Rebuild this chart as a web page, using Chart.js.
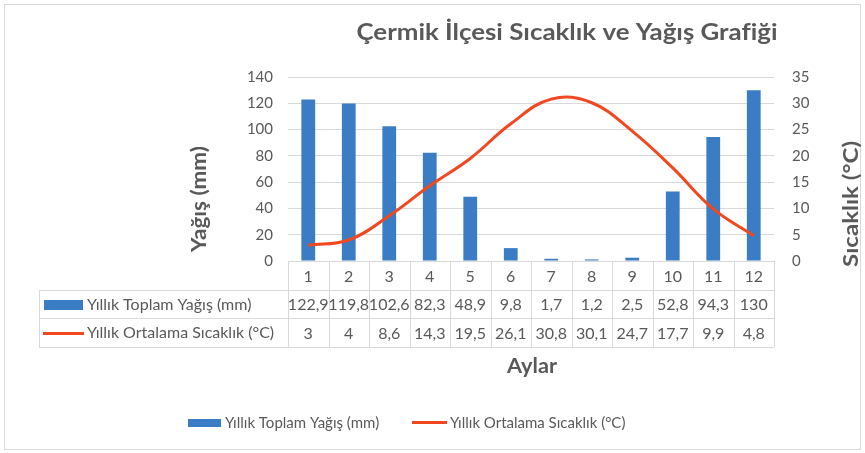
<!DOCTYPE html>
<html lang="tr">
<head>
<meta charset="UTF-8">
<title>Çermik İlçesi Sıcaklık ve Yağış Grafiği</title>
<script src="https://cdn.jsdelivr.net/npm/chart.js"></script>
<style>
    body { margin: 0; background: #fff; }
    #wrap { position: relative; width: 865px; height: 453px; }
</style>
</head>
<body>
<div id="wrap"><canvas id="chart" width="865" height="453"></canvas></div>
<script>
const months = ['1', '2', '3', '4', '5', '6', '7', '8', '9', '10', '11', '12'];
const rainfall = [122.9, 119.8, 102.6, 82.3, 48.9, 9.8, 1.7, 1.2, 2.5, 52.8, 94.3, 130];
const temperature = [3, 4, 8.6, 14.3, 19.5, 26.1, 30.8, 30.1, 24.7, 17.7, 9.9, 4.8];
const rainTicks = [0, 20, 40, 60, 80, 100, 120, 140];
const tempTicks = [0, 5, 10, 15, 20, 25, 30, 35];

const rainLabel = 'Yıllık Toplam Yağış (mm)';
const tempLabel = 'Yıllık Ortalama Sıcaklık (°C)';
const titleText = 'Çermik İlçesi Sıcaklık ve Yağış Grafiği';

const BLUE = '#3a7dc4';
const RED = '#f2481f';
const GRID = '#d9d9d9';
const TEXT = '#595959';
const FONT = 'Lato, "Open Sans", sans-serif';

const fmt = v => String(v).replace('.', ',');

// bold text stretched a little to the width Excel's Calibri gives it
function wideText(ctx, text, x, y, size, width) {
    ctx.font = 'bold ' + size + 'px ' + FONT;
    const w = ctx.measureText(text).width;
    ctx.save();
    ctx.translate(x, y);
    ctx.scale(width / w, 1);
    ctx.fillText(text, 0, 0);
    ctx.restore();
}

// title, axis titles, data table and legend drawn around the plot
const decorations = {
    id: 'decorations',
    afterDraw(chart) {
        const ctx = chart.ctx;
        const x = chart.scales.x;
        const area = chart.chartArea;
        ctx.save();

        // outer frame
        ctx.strokeStyle = GRID;
        ctx.lineWidth = 1;
        ctx.strokeRect(4.5, 4.5, 856, 445);

        ctx.fillStyle = TEXT;
        ctx.textBaseline = 'middle';
        ctx.textAlign = 'center';

        wideText(ctx, titleText, 567, 33, 23, 421);

        ctx.save();
        ctx.translate(200, 199);
        ctx.rotate(-Math.PI / 2);
        wideText(ctx, 'Yağış (mm)', 0, 0, 20, 106);
        ctx.restore();
        ctx.save();
        ctx.translate(852, 204);
        ctx.rotate(-Math.PI / 2);
        wideText(ctx, 'Sıcaklık (°C)', 0, 0, 20, 126);
        ctx.restore();

        wideText(ctx, 'Aylar', 532, 367, 20, 50);

        // data table
        const half = (x.getPixelForValue(1) - x.getPixelForValue(0)) / 2;
        const left = area.left, right = area.right;
        const rows = [area.bottom, area.bottom + 29, area.bottom + 57, area.bottom + 86];
        ctx.strokeStyle = GRID;
        ctx.beginPath();
        ctx.moveTo(left, rows[0] + 0.5); ctx.lineTo(right, rows[0] + 0.5);
        for (let r = 1; r < 4; r++) {
            ctx.moveTo(39, rows[r] + 0.5); ctx.lineTo(right, rows[r] + 0.5);
        }
        ctx.moveTo(39.5, rows[1]); ctx.lineTo(39.5, rows[3]);
        for (let i = 0; i <= months.length; i++) {
            const px = Math.round(x.getPixelForValue(i) - half) + 0.5;
            ctx.moveTo(px, rows[0]); ctx.lineTo(px, rows[3]);
        }
        ctx.stroke();

        ctx.font = '16px ' + FONT;
        ctx.fillStyle = TEXT;
        ctx.textAlign = 'center';
        months.forEach((m, i) => {
            const px = x.getPixelForValue(i);
            ctx.fillText(m, px, (rows[0] + rows[1]) / 2 + 1);
            ctx.fillText(fmt(rainfall[i]), px, (rows[1] + rows[2]) / 2 + 1);
            ctx.fillText(fmt(temperature[i]), px, (rows[2] + rows[3]) / 2 + 1);
        });

        ctx.textAlign = 'left';
        ctx.fillStyle = BLUE;
        ctx.fillRect(44, 300, 39, 10);
        ctx.strokeStyle = RED;
        ctx.lineWidth = 3;
        ctx.beginPath(); ctx.moveTo(43, 333.5); ctx.lineTo(84, 333.5); ctx.stroke();
        ctx.fillStyle = TEXT;
        ctx.fillText(rainLabel, 87, 305);
        ctx.fillText(tempLabel, 87, 333);

        // legend
        ctx.font = '15px ' + FONT;
        ctx.fillStyle = BLUE;
        ctx.fillRect(188, 419, 33, 8);
        ctx.beginPath(); ctx.moveTo(412, 422.5); ctx.lineTo(447, 422.5); ctx.stroke();
        ctx.fillStyle = TEXT;
        ctx.fillText(rainLabel, 225, 423);
        ctx.fillText(tempLabel, 450, 423);

        ctx.restore();
    }
};

new Chart(document.getElementById('chart'), {
    data: {
        labels: months,
        datasets: [
            {
                type: 'line',
                label: tempLabel,
                data: temperature,
                yAxisID: 'y1',
                borderColor: RED,
                borderWidth: 3,
                pointRadius: 0,
                tension: 0.4,
                order: 0
            },
            {
                type: 'bar',
                label: rainLabel,
                data: rainfall,
                yAxisID: 'y',
                backgroundColor: BLUE,
                barPercentage: 0.34,
                categoryPercentage: 1,
                order: 1
            }
        ]
    },
    options: {
        responsive: false,
        animation: false,
        layout: { padding: { top: 77, left: 0, right: 0, bottom: 0 } },
        plugins: { legend: { display: false }, title: { display: false }, tooltip: { enabled: false } },
        scales: {
            x: {
                grid: { display: false },
                border: { display: false },
                ticks: { display: false },
                afterFit: s => { s.height = 192; }
            },
            y: {
                position: 'left',
                min: 0, max: 140,
                afterBuildTicks: s => { s.ticks = rainTicks.map(v => ({ value: v })); },
                grid: { color: GRID, drawTicks: false },
                border: { display: false },
                ticks: { color: TEXT, font: { family: FONT, size: 15 }, padding: 15 },
                afterFit: s => { s.width = 288; }
            },
            y1: {
                position: 'right',
                min: 0, max: 35,
                afterBuildTicks: s => { s.ticks = tempTicks.map(v => ({ value: v })); },
                grid: { display: false, drawTicks: false },
                border: { display: false },
                ticks: { color: TEXT, font: { family: FONT, size: 15 }, padding: 18 },
                afterFit: s => { s.width = 91; }
            }
        }
    },
    plugins: [decorations]
});
</script>
</body>
</html>
